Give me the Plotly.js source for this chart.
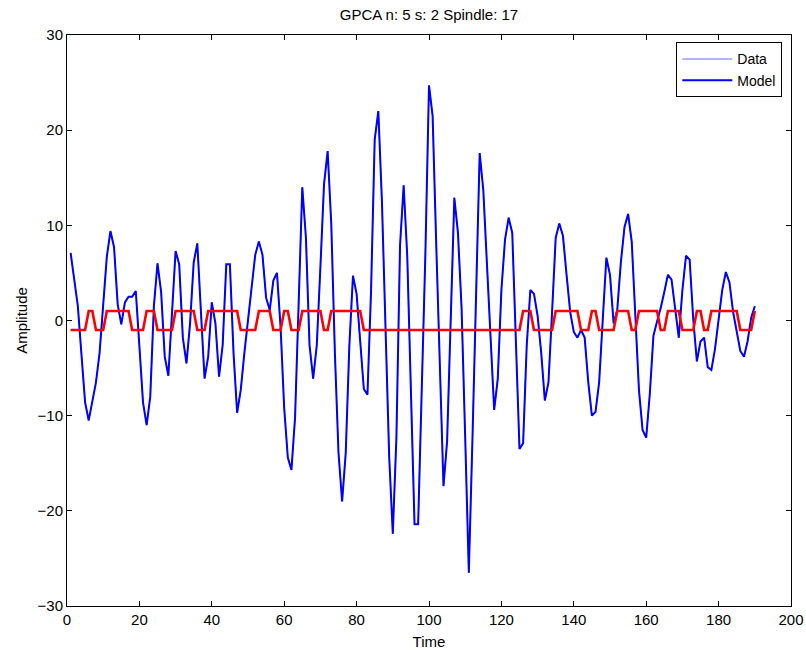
<!DOCTYPE html>
<html>
<head>
<meta charset="utf-8">
<script src="https://cdn.plot.ly/plotly-3.0.1.min.js"></script>
<style>html,body{margin:0;padding:0;background:#fff;}#chart{width:806px;height:650px;}</style>
</head>
<body>
<div id="chart"></div>
<script>
const time = [
1,2,3,4,5,6,7,8,9,10,11,12,13,14,15,16,17,18,19,20,
21,22,23,24,25,26,27,28,29,30,31,32,33,34,35,36,37,38,39,40,
41,42,43,44,45,46,47,48,49,50,51,52,53,54,55,56,57,58,59,60,
61,62,63,64,65,66,67,68,69,70,71,72,73,74,75,76,77,78,79,80,
81,82,83,84,85,86,87,88,89,90,91,92,93,94,95,96,97,98,99,100,
101,102,103,104,105,106,107,108,109,110,111,112,113,114,115,116,117,118,119,120,
121,122,123,124,125,126,127,128,129,130,131,132,133,134,135,136,137,138,139,140,
141,142,143,144,145,146,147,148,149,150,151,152,153,154,155,156,157,158,159,160,
161,162,163,164,165,166,167,168,169,170,171,172,173,174,175,176,177,178,179,180,
181,182,183,184,185,186,187,188,189,190
];

const amplitude = [
7.1, 4.3, 1.5, -3.6, -8.6, -10.5, -8.4, -6.5, -3.4, 1.6,
6.7, 9.4, 7.7, 1.7, -0.4, 1.9, 2.5, 2.5, 3.1, -2.7,
-8.6, -11, -8, 1.5, 6, 3, -3.8, -5.8, 0.5, 7.3,
5.9, -1.8, -4.5, -0.3, 6.1, 8.1, 0.9, -6.1, -3.8, 1.9,
-0.3, -5.9, -2.6, 5.9, 5.9, -3.4, -9.7, -7.3, -3.4, 0.1,
4, 6.9, 8.3, 6.9, 2.4, 1.1, 4.2, 5, -0.7, -9.2,
-14.4, -15.7, -10.2, 3.2, 14, 8.7, -2.6, -6.1, -2.6, 5.6,
14.3, 17.8, 10.2, -3.4, -13.9, -19, -13.9, -2.6, 4.7, 2.8,
-2.6, -7.2, -7.8, 3.2, 19, 22, 12.5, -0.7, -14.3, -22.4,
-12.3, 7.9, 14.2, 6.7, -8.4, -21.4, -21.4, -8.5, 7, 24.7,
21.5, 8, -5, -17.4, -12.7, 0, 12.9, 9.2, 1.3, -12.3,
-26.5, -12.5, 2.5, 17.6, 13.7, 6.3, -2.6, -9.4, -6.1, 3.2,
8.5, 10.8, 9.2, -1.4, -13.5, -12.9, -2.6, 3.2, 2.8, 0.5,
-3.4, -8.4, -6.5, 0.9, 8.7, 10.2, 8.9, 4.8, 0.9, -1.2,
-1.8, -1, -1.8, -6.5, -10, -9.6, -6.5, 0.1, 6.6, 4.8,
-0.3, 1.1, 6.1, 9.8, 11.2, 8.3, 0.5, -7.3, -11.5, -12.3,
-7.7, -1.6, -0.1, 1.3, 3, 4.8, 4.3, 0.9, -1.8, 3.2,
6.8, 6.4, 0.1, -4.3, -2.2, -1.8, -4.9, -5.2, -3, 0.1,
3.2, 5.1, 4, 0.9, -1.2, -3.2, -3.8, -2.2, 0.3, 1.5
];

const state = [
-1,-1,-1,-1,-1,1,1,-1,-1,-1,
1,1,1,1,1,1,1,-1,-1,-1,
-1,1,1,1,-1,-1,-1,-1,-1,1,
1,1,1,1,1,-1,-1,-1,1,1,
1,1,1,1,1,1,1,-1,-1,-1,
-1,-1,1,1,1,1,-1,-1,-1,1,
1,-1,-1,-1,1,1,1,1,1,1,
-1,-1,1,1,1,1,1,1,1,1,
1,-1,-1,-1,-1,-1,-1,-1,-1,-1,
-1,-1,-1,-1,-1,-1,-1,-1,-1,-1,
-1,-1,-1,-1,-1,-1,-1,-1,-1,-1,
-1,-1,-1,-1,-1,-1,-1,-1,-1,-1,
-1,-1,-1,-1,-1,1,1,1,-1,-1,
-1,-1,-1,-1,1,1,1,1,1,1,
1,-1,-1,-1,1,1,-1,-1,-1,-1,
-1,1,1,1,1,-1,-1,1,1,1,
1,1,1,-1,-1,1,1,1,1,-1,
-1,-1,-1,1,1,-1,-1,1,1,1,
1,1,1,1,1,-1,-1,-1,-1,1
];

const titleText = 'GPCA n: 5 s: 2 Spindle: 17';
const xTicks = [0, 20, 40, 60, 80, 100, 120, 140, 160, 180, 200];
const yTicks = [-30, -20, -10, 0, 10, 20, 30];

const FONT = 'Liberation Sans, Arial, Helvetica, sans-serif';

const traces = [
  {x: time, y: amplitude, type: 'scatter', mode: 'lines', name: 'Data',
   line: {color: '#0000ff', width: 0.6}},
  {x: time, y: amplitude, type: 'scatter', mode: 'lines', name: 'Model',
   line: {color: '#0000ff', width: 2}},
  {x: time, y: state, type: 'scatter', mode: 'lines', name: 'State', showlegend: false,
   line: {color: '#ff0000', width: 2.6}}
];

const axisCommon = {
  showgrid: false, zeroline: false, showline: true, linecolor: '#000', linewidth: 1,
  mirror: 'ticks', ticks: 'inside', ticklen: 5, tickwidth: 1, tickcolor: '#000',
  tickfont: {family: FONT, size: 15, color: '#000'}
};

const layout = {
  width: 806, height: 650,
  margin: {l: 67, r: 15, t: 35, b: 44, pad: 0},
  paper_bgcolor: '#fff', plot_bgcolor: '#fff',
  font: {family: FONT, size: 15, color: '#000'},
  title: {text: titleText, font: {family: FONT, size: 15, color: '#000'},
          x: 0.5, xref: 'paper', xanchor: 'center', y: 0.977, yref: 'container', yanchor: 'middle'},
  xaxis: Object.assign({}, axisCommon, {
    range: [0, 200], tickmode: 'array', tickvals: xTicks, ticktext: xTicks.map(String),
    title: {text: 'Time', font: {family: FONT, size: 15, color: '#000'}}
  }),
  yaxis: Object.assign({}, axisCommon, {
    range: [-30, 30], tickmode: 'array', tickvals: yTicks,
    ticktext: yTicks.map(v => v < 0 ? '\u2212' + Math.abs(v) : String(v)),
    title: {text: 'Amplitude', font: {family: FONT, size: 15, color: '#000'}}
  }),
  showlegend: true,
  legend: {x: 0.988, xanchor: 'right', y: 0.987, yanchor: 'top',
           bgcolor: '#fff', bordercolor: '#000', borderwidth: 1, itemwidth: 50,
           font: {family: FONT, size: 14, color: '#000'}, tracegroupgap: 0}
};

Plotly.newPlot('chart', traces, layout, {displayModeBar: false, staticPlot: true});
</script>
</body>
</html>
